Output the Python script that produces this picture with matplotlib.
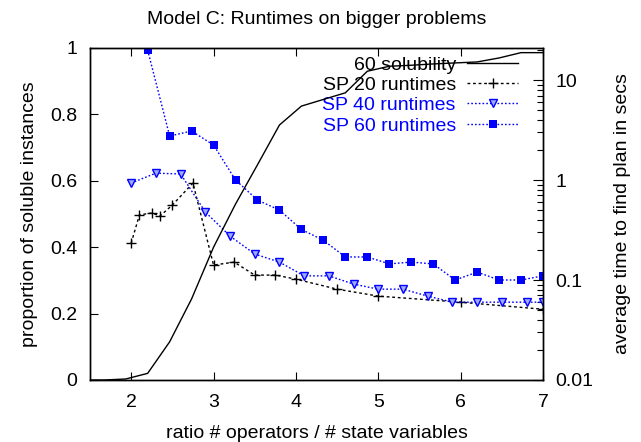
import matplotlib
matplotlib.use("Agg")
import matplotlib.pyplot as plt
from matplotlib.ticker import FuncFormatter, FixedLocator, LogLocator, NullFormatter

plt.rcParams['font.family'] = ['Liberation Sans', 'DejaVu Sans']

# ---- data ----
sol_x = [1.4, 1.667, 1.933, 2.2, 2.467, 2.733, 3.0, 3.267, 3.533, 3.8, 4.067, 4.333,
         4.6, 4.867, 5.133, 5.4, 5.667, 5.933, 6.2, 6.467, 6.733, 7.0]
sol_y = [0.0, 0.0, 0.003, 0.02, 0.115, 0.244, 0.40, 0.53, 0.648, 0.768, 0.825, 0.845,
         0.865, 0.93, 0.945, 0.948, 0.952, 0.955, 0.958, 0.97, 0.986, 0.986]

sp20_x = [2.0, 2.1, 2.25, 2.35, 2.5, 2.75, 3.0, 3.25, 3.5, 3.75, 4.0, 4.5, 5.0, 6.0, 7.0]
sp20_y = [0.234, 0.447, 0.468, 0.437, 0.562, 0.933, 0.141, 0.151, 0.112, 0.112, 0.102,
          0.081, 0.069, 0.060, 0.051]

sp40_x = [2.0, 2.3, 2.6, 2.9, 3.2, 3.5, 3.8, 4.1, 4.4, 4.7, 5.0, 5.3, 5.6, 5.9, 6.2,
          6.5, 6.8, 7.0]
sp40_y = [0.933, 1.17, 1.15, 0.479, 0.275, 0.182, 0.151, 0.110, 0.110, 0.091, 0.081,
          0.081, 0.069, 0.060, 0.060, 0.060, 0.060, 0.060]

sp60_x = [2.2, 2.467, 2.733, 3.0, 3.267, 3.533, 3.8, 4.067, 4.333, 4.6, 4.867, 5.133,
          5.4, 5.667, 5.933, 6.2, 6.467, 6.733, 7.0]
sp60_y = [19.9, 2.75, 3.09, 2.24, 1.0, 0.63, 0.50, 0.32, 0.25, 0.17, 0.17, 0.145,
          0.151, 0.145, 0.10, 0.12, 0.10, 0.10, 0.11]

x_ticks = [2, 3, 4, 5, 6, 7]
y_ticks = [0, 0.2, 0.4, 0.6, 0.8, 1.0]
y2_ticks = [0.01, 0.1, 1, 10]

title = "Model C: Runtimes on bigger problems"
xlabel = "ratio # operators / # state variables"
ylabel = "proportion of soluble instances"
y2label = "average time to find plan in secs"

BLUE = "#0000ff"
FS = 14

fig = plt.figure(figsize=(6.41, 4.42), dpi=100)
ax = fig.add_axes([90/641, 1-380/442, (543-90)/641, (380-48)/442])
ax2 = ax.twinx()

fmt = FuncFormatter(lambda v, p: "%g" % v)

l0, = ax.plot(sol_x, sol_y, color="black", lw=1.0, zorder=3, label="60 solubility")
ax.set_xlim(1.5, 7)
ax.set_ylim(0, 1)
ax.xaxis.set_major_locator(FixedLocator(x_ticks))
ax.yaxis.set_major_locator(FixedLocator(y_ticks))
ax.xaxis.set_major_formatter(fmt)
ax.yaxis.set_major_formatter(fmt)
ax.tick_params(axis='both', direction='in', labelsize=FS, length=6, width=0.8, pad=9)
ax.tick_params(axis='x', top=True, pad=10)
ax.tick_params(axis='y', right=False)

l1, = ax2.plot(sp20_x, sp20_y, color="black", lw=1.0, ls=(0, (2, 2)), marker="+",
               ms=7, mew=1.0, label="SP 20 runtimes")
l2, = ax2.plot(sp40_x, sp40_y, color=BLUE, lw=1.0, ls=(0, (1.2, 1.5)), marker="v",
               ms=6, mew=1.0, mfc="#a0a8ff", mec=BLUE, label="SP 40 runtimes")
l3, = ax2.plot(sp60_x, sp60_y, color=BLUE, lw=1.0, ls=(0, (1.2, 1.5)), marker="s",
               ms=5.5, mew=0, mfc=BLUE, label="SP 60 runtimes")
ax2.set_yscale("log")
ax2.set_ylim(0.01, 20.9)
ax2.yaxis.set_major_locator(FixedLocator(y2_ticks))
ax2.yaxis.set_major_formatter(fmt)
ax2.yaxis.set_minor_locator(LogLocator(base=10, subs=range(2, 10)))
ax2.yaxis.set_minor_formatter(NullFormatter())
ax2.tick_params(axis='y', which='major', direction='in', labelsize=FS, length=7, width=0.8, pad=9)
ax2.tick_params(axis='y', which='minor', direction='in', length=4, width=0.8)

for a in (ax, ax2):
    for s in a.spines.values():
        s.set_linewidth(1.0)

ax.set_title(title, fontsize=FS, pad=17)
ax.set_xlabel(xlabel, fontsize=FS, labelpad=10)
ax.set_ylabel(ylabel, fontsize=FS, labelpad=9)
ax2.set_ylabel(y2label, fontsize=FS, labelpad=15)

handles = [l0, l1, l2, l3]
leg = ax2.legend(handles, [h.get_label() for h in handles], loc="upper right",
                 bbox_to_anchor=((518-90)/453, 1 - (56-48)/332), borderaxespad=0,
                 borderpad=0, frameon=False, markerfirst=False, fontsize=FS,
                 labelspacing=0.14, handlelength=2.6, handletextpad=0.6,
                 labelcolor=["black", "black", BLUE, BLUE])
leg.set_zorder(1)
# solubility line drawn over legend text (as in reference)
ax.set_zorder(ax2.get_zorder() + 1)
ax.patch.set_visible(False)

fig.savefig("out.png", dpi=100)
